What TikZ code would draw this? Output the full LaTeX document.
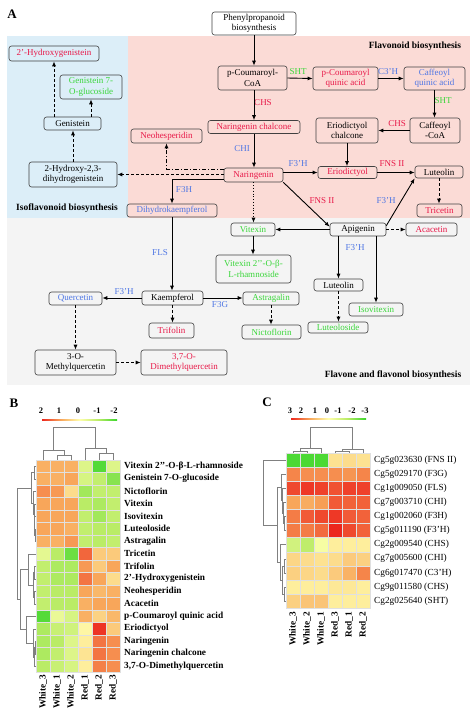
\documentclass[tikz,border=0pt]{standalone}
\usepackage{fontspec}
\setmainfont{Liberation Serif}
\usetikzlibrary{arrows.meta}
\definecolor{txtred}{RGB}{232,24,72}
\definecolor{txtblue}{RGB}{78,118,228}
\definecolor{txtgreen}{RGB}{58,214,58}
\definecolor{bgblue}{RGB}{220,238,248}
\definecolor{bgred}{RGB}{251,219,214}
\definecolor{bggray}{RGB}{244,244,244}
\definecolor{boxline}{RGB}{64,64,64}
\definecolor{hmA}{RGB}{236,38,30}
\definecolor{hmB}{RGB}{248,166,90}
\definecolor{hmC}{RGB}{255,255,172}
\definecolor{hmD}{RGB}{186,236,102}
\definecolor{hmE}{RGB}{58,214,44}
\pgfdeclarehorizontalshading{hmbar}{1bp}{color(0bp)=(hmA); color(25bp)=(hmA); color(37.5bp)=(hmB); color(50bp)=(hmC); color(62.5bp)=(hmD); color(75bp)=(hmE); color(100bp)=(hmE)}
\newcommand\fpath{\fontsize{9}{10.5}\selectfont}
\newcommand\ftitle{\fontsize{9.5}{11}\selectfont\bfseries}
\newcommand\fhm{\fontsize{9.3}{11}\selectfont}
\newcommand\fpanel{\fontsize{13}{15}\selectfont\bfseries}
% colour of one heat map cell, value from -2 to 2
\newcommand\hmset[1]{%
  \pgfmathsetmacro\hmv{max(-2,min(2,#1))}%
  \pgfmathtruncatemacro\hmseg{(\hmv>=1) ? 0 : ((\hmv>=0) ? 1 : ((\hmv>=-1) ? 2 : 3))}%
  \ifcase\hmseg\relax
    \pgfmathtruncatemacro\hmp{(\hmv-1)*100}\colorlet{hmc}{hmA!\hmp!hmB}%
  \or
    \pgfmathtruncatemacro\hmp{\hmv*100}\colorlet{hmc}{hmB!\hmp!hmC}%
  \or
    \pgfmathtruncatemacro\hmp{-\hmv*100}\colorlet{hmc}{hmD!\hmp!hmC}%
  \else
    \pgfmathtruncatemacro\hmp{(-\hmv-1)*100}\colorlet{hmc}{hmE!\hmp!hmD}%
  \fi}
\newcommand\rlink[5]{\draw[dendro] (#2,#3) -- (#1,#3) -- (#1,#5) -- (#4,#5);}
\newcommand\clink[5]{\draw[dendro] (#2,#3) -- (#2,#1) -- (#4,#1) -- (#4,#5);}

\begin{document}
\begin{tikzpicture}[x=1pt,y=-1pt,
  pbox/.style={draw=boxline, line width=0.6pt, rounded corners=2.5pt, align=center, inner sep=1pt, font=\fpath, minimum height=13pt},
  enz/.style={font=\fpath, inner sep=0pt},
  arr/.style={line width=0.9pt, -{Latex[length=5pt,width=4pt]}},
  darr/.style={arr, dash pattern=on 3pt off 2pt},
  ddarr/.style={arr, dash pattern=on 4pt off 2pt on 1pt off 2pt},
  farr/.style={arr, line width=0.8pt, dotted},
  dendro/.style={draw=black!50, line width=0.5pt},
  cellx/.style={fill=hmc, draw=black!12, line width=0.3pt},
  rowlab/.style={anchor=west, inner sep=0pt, font=\fhm},
  collab/.style={rotate=90, anchor=east, inner sep=0pt, font=\fhm\bfseries},
  barlab/.style={inner sep=0pt, font=\fontsize{8.5}{9}\selectfont\bfseries}]
\useasboundingbox (0,0) rectangle (474,718);

% backgrounds of panel A
\fill[bgblue] (7,36) rectangle (128,218);
\fill[bgred] (128,36) rectangle (470,218);
\fill[bggray] (7,218) rectangle (470,385);

\node (pA) at (12,14) {\fpanel A};
\node[font=\ftitle] (tflav) at (415,46) {Flavonoid biosynthesis};
\node[font=\ftitle] (tiso) at (67,208) {Isoflavonoid biosynthesis};
\node[font=\ftitle] (tfl) at (393,375) {Flavone and flavonol biosynthesis};

\node[pbox, fill=white, minimum width=84pt, minimum height=23pt] (phen) at (254,23.5) {Phenylpropanoid\\biosynthesis};
\node[pbox, minimum width=90pt, minimum height=15pt, text=txtred] (hydgen) at (54,53.5) {2’-Hydroxygenistein};
\node[pbox, minimum width=62pt, minimum height=24pt, text=txtgreen] (gen7) at (91,87) {Genistein 7-\\O-glucoside};
\node[pbox, minimum width=57pt] (genis) at (72.5,123.5) {Genistein};
\node[pbox, minimum width=88pt, minimum height=25pt] (hyd23) at (73,174.5) {2-Hydroxy-2,3-\\dihydrogenistein};
\node[pbox, minimum width=71pt, minimum height=14pt, text=txtred] (neoh) at (166.5,136) {Neohesperidin};
\node[pbox, minimum width=69pt, minimum height=24pt] (pcoa) at (252.5,78) {p-Coumaroyl-\\CoA};
\node[pbox, minimum width=65pt, minimum height=23pt, text=txtred] (pcqa) at (345.5,78.5) {p-Coumaroyl\\quinic acid};
\node[pbox, minimum width=61pt, minimum height=23pt, text=txtblue] (cfqa) at (434.5,78.5) {Caffeoyl\\quinic acid};
\node[pbox, minimum width=50pt, minimum height=25pt] (cfcoa) at (435,130.5) {Caffeoyl\\-CoA};
\node[pbox, minimum width=62pt, minimum height=25pt] (erich) at (347,130.5) {Eriodictyol\\chalcone};
\node[pbox, minimum width=92pt, text=txtred] (narch) at (254,127) {Naringenin chalcone};
\node[pbox, minimum width=59pt, minimum height=14pt, text=txtred] (nar) at (253.5,175) {Naringenin};
\node[pbox, minimum width=59pt, minimum height=12pt, text=txtred] (eri) at (347.5,172.5) {Eriodictyol};
\node[pbox, minimum width=48pt, minimum height=12pt] (lut) at (439,172) {Luteolin};
\node[pbox, minimum width=45pt, text=txtred] (tric) at (439.5,210.5) {Tricetin};
\node[pbox, minimum width=90pt, text=txtblue] (dhk) at (172,210.5) {Dihydrokaempferol};
\node[pbox, minimum width=56pt] (api) at (358,229.5) {Apigenin};
\node[pbox, minimum width=51pt, text=txtred] (aca) at (431.5,229.5) {Acacetin};
\node[pbox, minimum width=44pt, text=txtgreen] (vit) at (253,229.5) {Vitexin};
\node[pbox, minimum width=75pt, minimum height=28pt, text=txtgreen] (vitr) at (253.5,269) {Vitexin 2’’-O-β-\\L-rhamnoside};
\node[pbox, minimum width=49pt, minimum height=12pt] (lut2) at (338.5,285) {Luteolin};
\node[pbox, minimum width=60pt, minimum height=11pt, text=txtgreen] (lutd) at (338,327.5) {Luteoloside};
\node[pbox, minimum width=54pt, text=txtgreen] (isov) at (376,309.5) {Isovitexin};
\node[pbox, minimum width=56pt, text=txtgreen] (astr) at (271,298.5) {Astragalin};
\node[pbox, minimum width=59pt, minimum height=14pt, text=txtgreen] (nict) at (271.5,332) {Nictoflorin};
\node[pbox, minimum width=61pt, minimum height=14pt] (kaem) at (172.5,298) {Kaempferol};
\node[pbox, minimum width=53pt, text=txtblue] (quer) at (75.5,298.5) {Quercetin};
\node[pbox, minimum width=45pt, minimum height=15pt, text=txtred] (trif) at (171.5,330.5) {Trifolin};
\node[pbox, minimum width=81pt, minimum height=25pt] (mq) at (75.5,362.5) {3-O-\\Methylquercetin};
\node[pbox, minimum width=86pt, minimum height=25pt, text=txtred] (dmq) at (184,362.5) {3,7-O-\\Dimethylquercetin};

% enzymes
\node[enz, text=txtgreen] (eSHTa) at (298,72) {SHT};
\node[enz, text=txtblue] (eCTH) at (388,72) {C3’H};
\node[enz, text=txtgreen] (eSHTb) at (443,101) {SHT};
\node[enz, text=txtred] (eCHSa) at (263,103) {CHS};
\node[enz, text=txtred] (eCHSb) at (397,124) {CHS};
\node[enz, text=txtblue] (eCHI) at (242,149) {CHI};
\node[enz, text=txtblue] (eFTHa) at (298,164) {F3’H};
\node[enz, text=txtred] (eFNSa) at (392,164) {FNS II};
\node[enz, text=txtred] (eFNSb) at (322,201) {FNS II};
\node[enz, text=txtblue] (eFTHb) at (386,201) {F3’H};
\node[enz, text=txtblue] (eFH) at (184,190) {F3H};
\node[enz, text=txtblue] (eFLS) at (160,253) {FLS};
\node[enz, text=txtblue] (eFTHc) at (355,248) {F3’H};
\node[enz, text=txtblue] (eFTHd) at (124,292) {F3’H};
\node[enz, text=txtblue] (eFG) at (220,305) {F3G};

\draw[arr] (phen.south) -- (phen.south |- pcoa.north);
\draw[arr] (pcoa.east) -- (pcqa.west);
\draw[arr] (pcqa.east) -- (cfqa.west);
\draw[arr] (cfqa.south) -- (cfqa.south |- cfcoa.north);
\draw[arr] (cfcoa.west) -- (erich.east);
\draw[arr] (erich.south) -- (erich.south |- eri.north);
\draw[arr] (pcoa.south -| narch.north) -- (narch.north);
\draw[arr] (narch.south) -- (narch.south |- nar.north);
\draw[arr] (nar.east |- eri.west) -- (eri.west);
\draw[arr] (eri.east) -- (eri.east -| lut.west);
\draw[darr] (lut.south) -- (lut.south |- tric.north);
\draw[arr] (nar.south east) -- ([yshift=-4pt]api.north west);
\draw[arr] ([yshift=-3pt]api.north east) -- (lut.south west);
\draw[darr] (api.east) -- (aca.west);
\draw[arr] (api.west) -- (vit.east);
\draw[farr] (nar.south) -- (nar.south |- vit.north);
\draw[arr] (vit.south) -- (vit.south |- vitr.north);
\draw[arr] (api.south -| lut2.north) -- (lut2.north);
\draw[arr] (api.south -| isov.north) -- (isov.north);
\draw[darr] (lut2.south) -- (lut2.south |- lutd.north);
\draw[arr] ([yshift=-4pt]nar.west) -| (dhk.north);
\draw[ddarr] ([yshift=6pt]nar.west) -| (neoh.south);
\draw[darr] (hyd23.east -| nar.west) -- (hyd23.east);
\draw[darr] (hyd23.north) -- (hyd23.north |- genis.south);
\draw[darr] (genis.north -| hydgen.south) -- (hydgen.south);
\draw[darr] (genis.north -| gen7.south) -- (gen7.south);
\draw[arr] (dhk.south) -- (dhk.south |- kaem.north);
\draw[arr] (kaem.west) -- (kaem.west -| quer.east);
\draw[arr] (kaem.east) -- (kaem.east -| astr.west);
\draw[darr] (kaem.south) -- (kaem.south |- trif.north);
\draw[darr] (astr.south) -- (astr.south |- nict.north);
\draw[darr] (quer.south) -- (quer.south |- mq.north);
\draw[darr] (mq.east) -- (dmq.west);

% panel B
\node (pB) at (14,403.5) {\fpanel B};
\shade[shading=hmbar] (42,418) rectangle (117,422);
\foreach \t/\px [count=\k] in {2/41,1/59,0/78,-1/97,-2/114}
  \node[barlab] (bl\k) at (\px,411) {\t};
\clink{455}{57}{460}{71}{460}
\clink{450}{43}{460}{64}{455}
\clink{453}{99}{460}{113}{460}
\clink{448}{85}{460}{106}{453}
\clink{427}{53.5}{450}{95.5}{448}
\rlink{34}{36}{466.25}{36}{478.75}
\rlink{35}{36}{528.75}{36}{541.25}
\rlink{34.5}{36}{516.25}{35}{535}
\rlink{34}{36}{503.75}{34.5}{525.6}
\rlink{33}{36}{491.25}{34}{514.7}
\rlink{31}{34}{472.5}{33}{503}
\rlink{34}{36}{566.25}{36}{578.75}
\rlink{34.5}{36}{591.25}{36}{603.75}
\rlink{33}{34}{572.5}{34.5}{597.5}
\rlink{28}{36}{553.75}{33}{585}
\rlink{35}{36}{641.25}{36}{653.75}
\rlink{34}{35}{647.5}{36}{666.25}
\rlink{33}{36}{628.75}{34}{656.9}
\rlink{26}{36}{616.25}{33}{642.8}
\rlink{20}{28}{569.4}{26}{629.5}
\rlink{17}{31}{487.75}{20}{599.5}
\foreach \lab/\vals [count=\i] in {
  {Vitexin 2’’-O-β-L-rhamnoside}/{0.9,0.9,0.9,-0.5,-1.8,-0.5},
  {Genistein 7-O-glucoside}/{0.9,0.9,1.0,-0.6,-0.9,-1.4},
  {Nictoflorin}/{1.2,1.1,0.4,-1.2,-0.9,-0.9},
  {Vitexin}/{1.0,1.0,1.0,-1.0,-1.1,-0.9},
  {Isovitexin}/{1.0,1.0,1.0,-0.9,-1.2,-0.9},
  {Luteoloside}/{1.0,1.0,0.9,-0.9,-1.0,-1.0},
  {Astragalin}/{0.9,0.9,1.1,-0.9,-1.0,-0.9},
  {Tricetin}/{-0.4,-1.0,-1.6,1.5,0.6,0.6},
  {Trifolin}/{-0.9,-1.1,-1.1,1.1,0.6,1.0},
  {2’-Hydroxygenistein}/{-0.9,-1.1,-1.1,1.4,1.0,0.4},
  {Neohesperidin}/{-0.9,-1.0,-1.0,1.0,0.8,0.9},
  {Acacetin}/{-0.9,-1.0,-1.0,0.9,1.0,1.0},
  {p-Coumaroyl quinic acid}/{-1.8,-0.3,-0.6,0.9,0.5,0.8},
  {Eriodictyol}/{-1.1,-0.8,-0.7,0.1,1.9,0.6},
  {Naringenin}/{-1.1,-1.0,-0.5,0.2,1.4,1.2},
  {Naringenin chalcone}/{-1.1,-0.9,-0.5,0.3,1.4,1.2},
  {3,7-O-Dimethylquercetin}/{-1.0,-0.8,-0.6,0.2,1.3,1.2}}{
  \foreach \v [count=\j] in \vals {
    \hmset{\v}
    \filldraw[cellx] ({36+14*(\j-1)},{460+12.5*(\i-1)}) rectangle +(14,12.5);
  }
  \node[rowlab, font=\fhm\bfseries] (br\i) at (124,{460+12.5*(\i-0.5)}) {\lab};
}
\foreach \c [count=\j] in {White\_3,White\_1,White\_2,Red\_1,Red\_2,Red\_3}
  \node[collab] (bc\j) at ({36+14*(\j-0.5)},675) {\c};

% panel C
\node (pC) at (267,402.5) {\fpanel C};
\shade[shading=hmbar] (291,417) rectangle (366,421);
\foreach \t/\px [count=\k] in {3/290,2/301,1/315,0/327,-1/338,-2/352,-3/365}
  \node[barlab] (cl\k) at (\px,411) {\t};
\clink{451}{293}{453}{307}{453}
\clink{448}{300}{451}{321}{453}
\clink{451}{335}{453}{349}{453}
\clink{449}{342}{451}{363}{453}
\clink{427}{310.5}{448}{352.5}{449}
\rlink{284.5}{286}{516.45}{286}{530.55}
\rlink{283.5}{286}{502.35}{284.5}{523.5}
\rlink{282.5}{286}{488.25}{283.5}{512.9}
\rlink{281}{286}{474.15}{282.5}{500.6}
\rlink{284}{286}{558.75}{286}{572.85}
\rlink{284.5}{286}{586.95}{286}{601.05}
\rlink{282}{284}{565.8}{284.5}{594}
\rlink{280}{286}{544.65}{282}{579.9}
\rlink{277}{281}{487.4}{280}{562.3}
\rlink{263}{286}{460.05}{277}{524.85}
\foreach \lab/\vals [count=\i] in {
  {Cg5g023630 (FNS II)}/{-2.8,-2.8,-2.8,0.5,0.6,0.5},
  {Cg5g029170 (F3G)}/{1.9,1.8,1.8,1.8,1.7,1.9},
  {Cg1g009050 (FLS)}/{2.6,2.8,2.7,2.5,2.7,2.7},
  {Cg7g003710 (CHI)}/{1.5,1.4,1.6,2.4,2.3,2.3},
  {Cg1g002060 (F3H)}/{2.0,2.4,2.6,2.8,2.4,2.3},
  {Cg5g011190 (F3’H)}/{2.0,2.0,2.2,3.0,2.6,2.3},
  {Cg2g009540 (CHS)}/{-1.0,-1.4,-0.2,0.3,0.3,0.3},
  {Cg7g005600 (CHI)}/{0.7,0.6,0.5,0.6,0.9,0.8},
  {Cg6g017470 (C3’H)}/{0.8,0.7,0.6,0.9,1.3,1.9},
  {Cg9g011580 (CHS)}/{0.3,0.3,0.3,0.4,0.4,0.3},
  {Cg2g025640 (SHT)}/{0.8,1.0,1.0,0.3,0.3,0.3}}{
  \foreach \v [count=\j] in \vals {
    \hmset{\v*2/3}
    \filldraw[cellx] ({286+14*(\j-1)},{453+14.1*(\i-1)}) rectangle +(14,14.1);
  }
  \node[rowlab] (cr\i) at (374,{453+14.1*(\i-0.5)}) {\lab};
}
\foreach \c [count=\j] in {White\_3,White\_2,White\_1,Red\_3,Red\_1,Red\_2}
  \node[collab] (cc\j) at ({286+14*(\j-0.5)},612) {\c};
\end{tikzpicture}
\end{document}
